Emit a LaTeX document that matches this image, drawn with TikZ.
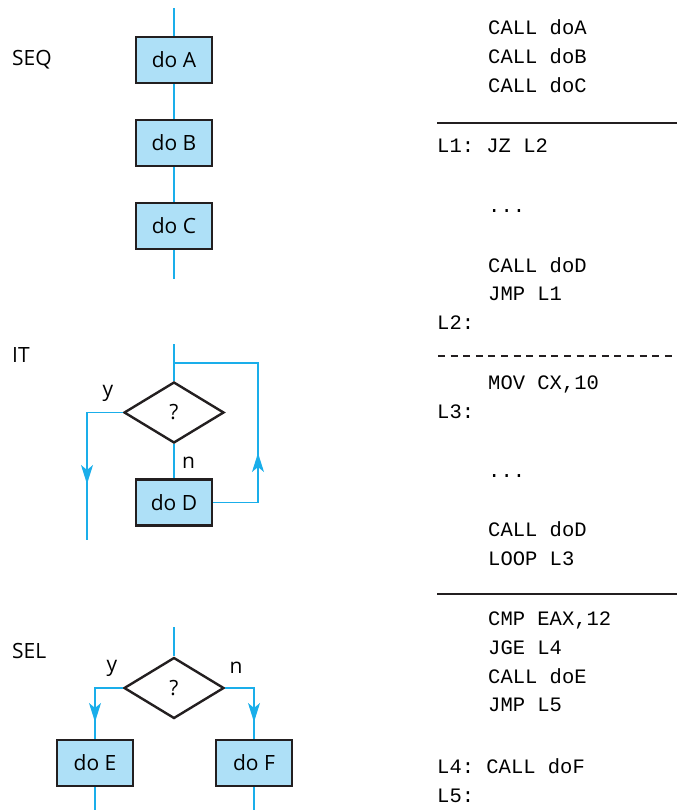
\documentclass[tikz,border=0pt]{standalone}
\usepackage{fontspec}
\setsansfont{Open Sans}
\setmonofont{Liberation Mono}
\usetikzlibrary{shapes.geometric, arrows.meta, positioning}
\definecolor{azulFlujo}{HTML}{1AAEEA}
\definecolor{azulCaja}{HTML}{AEE0F7}
\definecolor{negroBorde}{HTML}{231F20}

\begin{document}
\begin{tikzpicture}[x=1pt, y=-1pt, font=\sffamily\fontsize{21}{25}\selectfont,
        proc/.style={draw=negroBorde, line width=2.5pt, fill=azulCaja,
            minimum width=76pt, minimum height=46pt, inner sep=0pt},
        cond/.style={diamond, draw=negroBorde, line width=2.4pt, aspect=1.64,
            minimum width=100pt, minimum height=61pt, inner sep=0pt},
        flow/.style={draw=azulFlujo, line width=1.4pt},
        punta/.style={flow, -{Stealth[length=19pt, width=12pt, inset=5pt]}},
        cod/.style={font=\ttfamily\fontsize{20.5}{24}\selectfont, anchor=base west, inner sep=0pt},
        tit/.style={anchor=west, inner sep=0pt},
        regla/.style={draw=negroBorde, line width=1.2pt}]
        \useasboundingbox (0,0) rectangle (677,810);
        % SEQ
        \node[tit] (tSeq) at (12,60) {SEQ};
        \coordinate (seqIni) at (174,8);
        \node[proc] (dA) at (174,60) {do A};
        \node[proc] (dB) at (174,143) {do B};
        \node[proc] (dC) at (174,226) {do C};
        \coordinate (seqFin) at (174,279);
        \draw[flow] (seqIni) -- (dA);
        \draw[flow] (dA) -- (dB);
        \draw[flow] (dB) -- (dC);
        \draw[flow] (dC) -- (seqFin);
        % IT
        \node[tit] (tIt) at (12,355) {IT};
        \coordinate (itIni) at (174,344);
        \coordinate (itJun) at (174,363);
        \coordinate (itEsq) at (258,363);
        \node[cond] (q1) at (174,412.5) {?};
        \node[proc] (dD) at (174,502.5) {do D};
        \coordinate (itIzq) at (87,412.5);
        \coordinate (itFin) at (87,540);
        \coordinate (itPuntaY) at (87,484);
        \coordinate (itPuntaR) at (258,453);
        \draw[flow] (itIni) -- (q1);
        \draw[flow] (q1.west) -- (itIzq) -- (itFin);
        \draw[punta] (itIzq) -- (itPuntaY);
        \draw[flow] (q1) -- node[right, pos=0.55, xshift=4pt]{n} (dD);
        \draw[flow] (dD.east) -| (itEsq) -- (itJun);
        \draw[punta] (dD.east) -| (itPuntaR);
        \node (yIt) at (108,393) {y};
        % SEL
        \node[tit] (tSel) at (12,651) {SEL};
        \coordinate (selIni) at (174,627);
        \node[cond] (q2) at (174,688) {?};
        \node[proc] (dE) at (95,763) {do E};
        \node[proc] (dF) at (254,763) {do F};
        \coordinate (selPuntaE) at (95,722);
        \coordinate (selPuntaF) at (254,722);
        \coordinate (selFinE) at (95,810);
        \coordinate (selFinF) at (254,810);
        \draw[flow] (selIni) -- (q2);
        \draw[flow] (q2.west) -| (dE.north);
        \draw[flow] (q2.east) -| (dF.north);
        \draw[punta] (q2.west) -| (selPuntaE);
        \draw[punta] (q2.east) -| (selPuntaF);
        \draw[flow] (dE) -- (selFinE);
        \draw[flow] (dF) -- (selFinF);
        \node (ySel) at (112,668) {y};
        \node (nSel) at (236,668) {n};
        % codigo
        \node[cod] (c1) at (488,35) {CALL doA};
        \node[cod] (c2) at (488,64) {CALL doB};
        \node[cod] (c3) at (488,93) {CALL doC};
        \draw[regla] (437,123) -- (677,123);
        \node[cod] (c4) at (437,153) {L1: JZ L2};
        \node[cod] (c5) at (488,212) {...};
        \node[cod] (c6) at (488,272) {CALL doD};
        \node[cod] (c7) at (488,300) {JMP L1};
        \node[cod] (c8) at (437,329) {L2:};
        \draw[regla, dash pattern=on 7pt off 5.6pt] (438,356) -- (677,356);
        \node[cod] (c9) at (488,389) {MOV CX,10};
        \node[cod] (c10) at (437,418) {L3:};
        \node[cod] (c11) at (488,477) {...};
        \node[cod] (c12) at (488,536) {CALL doD};
        \node[cod] (c13) at (488,565) {LOOP L3};
        \draw[regla] (437,594) -- (677,594);
        \node[cod] (c14) at (488,625) {CMP EAX,12};
        \node[cod] (c15) at (488,654) {JGE L4};
        \node[cod] (c16) at (488,683) {CALL doE};
        \node[cod] (c17) at (488,711) {JMP L5};
        \node[cod] (c18) at (437,773) {L4: CALL doF};
        \node[cod] (c19) at (437,802) {L5:};
    \end{tikzpicture}
\end{document}
